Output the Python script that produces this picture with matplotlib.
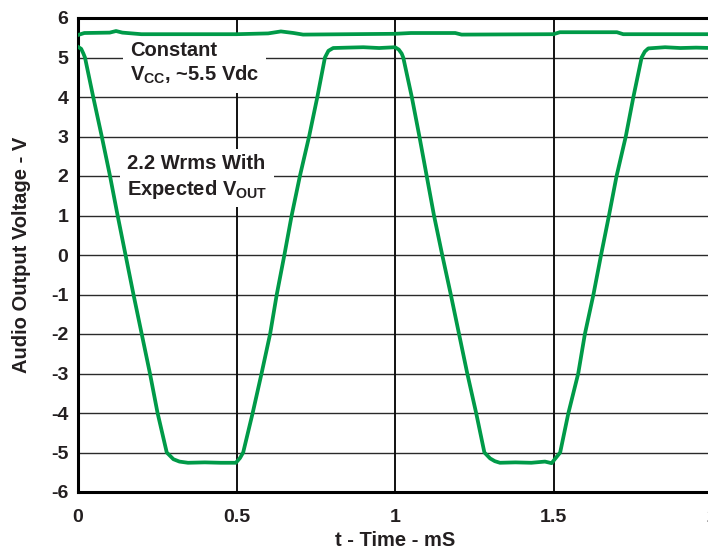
import matplotlib
matplotlib.use("Agg")
import matplotlib.pyplot as plt

plt.rcParams['font.family'] = ['Liberation Sans', 'DejaVu Sans']
plt.rcParams['font.weight'] = 'bold'
plt.rcParams['mathtext.fontset'] = 'custom'
plt.rcParams['mathtext.rm'] = 'Liberation Sans:bold'
plt.rcParams['mathtext.bf'] = 'Liberation Sans:bold'
plt.rcParams['mathtext.it'] = 'Liberation Sans:bold'

# ---- data (time in ms, voltage in V) ----
t_out = [0.000, 0.010, 0.017, 0.022, 0.048, 0.075, 0.101, 0.125, 0.150, 0.175,
         0.201, 0.227, 0.251, 0.280, 0.301, 0.320, 0.347, 0.400, 0.450, 0.498,
         0.511, 0.521, 0.551, 0.579, 0.606, 0.627, 0.651, 0.674, 0.700, 0.729,
         0.755, 0.779, 0.790, 0.805, 0.850, 0.900, 0.950, 1.000, 1.012, 1.021,
         1.026, 1.053, 1.077, 1.100, 1.123, 1.149, 1.176, 1.202, 1.228, 1.256,
         1.282, 1.300, 1.315, 1.331, 1.380, 1.430, 1.473, 1.494, 1.515, 1.521,
         1.547, 1.578, 1.599, 1.626, 1.650, 1.675, 1.699, 1.728, 1.752, 1.778,
         1.788, 1.799, 1.852, 1.900, 1.950, 2.000]
v_out = [5.27, 5.22, 5.10, 5.00, 4.00, 3.00, 2.00, 1.00, 0.00, -1.00,
         -2.00, -3.00, -4.00, -5.00, -5.17, -5.23, -5.26, -5.25, -5.26, -5.26,
         -5.14, -5.00, -4.00, -3.00, -2.00, -1.00, 0.00, 1.00, 2.00, 3.00,
         4.00, 5.00, 5.17, 5.24, 5.25, 5.26, 5.24, 5.26, 5.20, 5.10,
         5.00, 4.00, 3.00, 2.00, 1.00, 0.00, -1.00, -2.00, -3.00, -4.00,
         -5.00, -5.15, -5.22, -5.26, -5.25, -5.26, -5.23, -5.27, -5.06, -5.00,
         -4.00, -3.00, -2.00, -1.00, 0.00, 1.00, 2.00, 3.00, 4.00, 5.00,
         5.15, 5.23, 5.26, 5.24, 5.25, 5.24]

t_vcc = [0.00, 0.02, 0.10, 0.12, 0.14, 0.20, 0.50, 0.60, 0.64, 0.68, 0.71,
         1.00, 1.05, 1.19, 1.21, 1.50, 1.52, 1.70, 1.72, 2.00]
v_vcc = [5.57, 5.62, 5.63, 5.67, 5.63, 5.59, 5.59, 5.61, 5.66, 5.62, 5.58,
         5.60, 5.62, 5.62, 5.58, 5.59, 5.64, 5.64, 5.59, 5.59]

x_ticks = [0, 0.5, 1, 1.5, 2]
x_tick_labels = ['0', '0.5', '1', '1.5', '2']
y_ticks = list(range(-6, 7))
y_tick_labels = [str(v) for v in y_ticks]

green = '#009a48'
txt = '#231f20'

fig = plt.figure(figsize=(7.08, 5.5), dpi=100)
ax = fig.add_axes([78/708, 1-492/550, 634/708, 474/550])

ax.set_xlim(0, 2)
ax.set_ylim(-6, 6)

# grid
for y in y_ticks[1:-1]:
    ax.axhline(y, color='#2a2a2a', lw=1.0, zorder=1)
for x in x_ticks[1:-1]:
    ax.axvline(x, color='#111111', lw=1.4, zorder=1)

ax.plot(t_vcc, v_vcc, color=green, lw=2.7, zorder=3, solid_joinstyle='round')
ax.plot(t_out, v_out, color=green, lw=2.7, zorder=3, solid_joinstyle='round')

for s in ['left', 'bottom', 'top', 'right']:
    ax.spines[s].set_linewidth(2.2)
    ax.spines[s].set_color('black')

ax.set_xticks(x_ticks)
ax.set_xticklabels(x_tick_labels)
ax.set_yticks(y_ticks)
ax.set_yticklabels(y_tick_labels)
ax.tick_params(axis='both', length=0, labelsize=14, colors=txt)
ax.tick_params(axis='y', pad=7)
ax.tick_params(axis='x', pad=12)
for lab in ax.get_xticklabels() + ax.get_yticklabels():
    lab.set_fontweight('bold')

ax.set_xlabel('t - Time - mS', fontsize=14.5, fontweight='bold', color=txt, va='center')
ax.xaxis.set_label_coords(0.5, (492-540)/474)
ax.set_ylabel('Audio Output Voltage - V', fontsize=14.5, fontweight='bold', color=txt, va='center')
ax.yaxis.set_label_coords((22-78)/634, 0.5)

box = dict(facecolor='white', edgecolor='none', pad=5)
ax.text(0.164, 5.42, 'Constant\nV$_{\\mathbf{CC}}$, ~5.5 Vdc', fontsize=14.5,
        fontweight='bold', color=txt, ha='left', va='top', linespacing=1.25,
        bbox=box, zorder=2)
ax.text(0.155, 2.55, '2.2 Wrms With\nExpected V$_{\\mathbf{OUT}}$', fontsize=14.5,
        fontweight='bold', color=txt, ha='left', va='top', linespacing=1.25,
        bbox=box, zorder=2)

fig.savefig('out.png', dpi=100)
